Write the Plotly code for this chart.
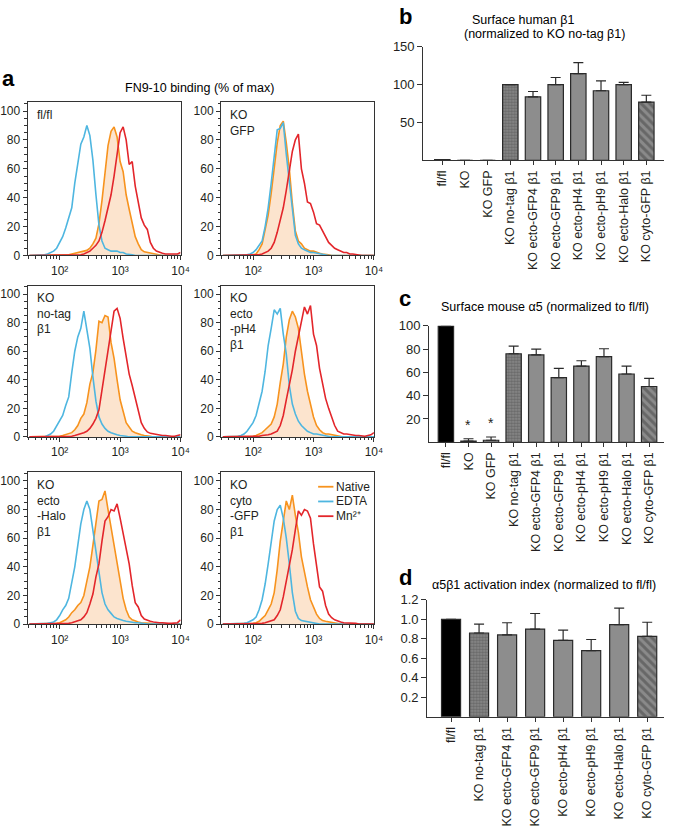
import plotly.graph_objects as go

W, H = 675, 830
FONT = "Liberation Sans, Arial, sans-serif"
INK = "#231f20"

# ---------------- panel a: flow histograms (log10 fluorescence bins) ----------------
LOG_BINS = [1.50, 1.55, 1.60, 1.65, 1.70, 1.75, 1.80, 1.85, 1.90, 1.95,
            2.00, 2.05, 2.10, 2.15, 2.20, 2.25, 2.30, 2.35, 2.40, 2.45,
            2.50, 2.55, 2.60, 2.65, 2.70, 2.75, 2.80, 2.85, 2.90, 2.95,
            3.00, 3.05, 3.10, 3.15, 3.20, 3.25, 3.30, 3.35, 3.40, 3.45,
            3.50, 3.55, 3.60, 3.65, 3.70, 3.75, 3.80, 3.85, 3.90, 3.95, 4.00]

# fl/fl
EDTA_FLFL = [0]*5 + [0.5, 1, 2, 3, 5, 9, 13, 19, 26, 33, 50, 64, 77, 82, 90, 83, 66, 42, 21, 10,
                     5, 4, 3, 3, 3, 2, 2, 1, 1, 0.5] + [0]*16
NATIVE_FLFL = [0]*13 + [0.5, 1, 1.5, 2, 2, 3, 3.5, 5, 8, 12, 22, 38, 58, 76, 86, 89, 82, 65, 58, 42,
                        32, 22, 13, 8, 4, 2.5, 2, 1.5, 1, 1, 0.5] + [0]*7
MN_FLFL = [0]*17 + [0.5, 1, 2, 3, 5, 7, 10, 16, 24, 33, 42, 55, 72, 85, 89, 80, 63, 65, 48, 36,
                    26, 21, 18, 9, 5, 3, 2, 1.5, 1, 1, 1, 0.5, 1, 2]
# KO GFP
EDTA_KOGFP = [0]*8 + [0.5, 1, 2, 4, 7, 10, 20, 33, 50, 68, 87, 88, 92, 70, 52, 31, 14, 8, 5, 4,
                      3, 2, 2, 1.5, 1, 1, 0.5] + [0]*16
NATIVE_KOGFP = [0]*10 + [0.5, 1, 4, 8, 17, 28, 43, 60, 78, 90, 93, 78, 60, 36, 17, 10, 8, 5, 4, 3,
                         3, 2, 1.5, 1, 1, 0.5] + [0]*15
MN_KOGFP = [0]*12 + [0.5, 1, 2, 3, 5, 9, 16, 24, 33, 45, 58, 72, 80, 84, 60, 50, 37, 36, 30, 22,
                     21, 17, 12, 9, 7, 5, 4, 3, 2, 2, 1, 1, 0.5, 0.5] + [0]*5
# KO no-tag b1
EDTA_NOTAG = [0]*6 + [1, 2, 4, 8, 11, 15, 22, 28, 45, 60, 70, 76, 88, 74, 62, 42, 25, 14, 9, 6,
                      4, 3, 2, 1.5, 1, 1, 0.5] + [0]*18
NATIVE_NOTAG = [0]*10 + [0.5, 1, 1.5, 2, 3, 5, 8, 13, 16, 24, 37, 45, 61, 81, 80, 85, 84, 66, 55, 40,
                         26, 18, 10, 7, 4, 3, 2, 1.5, 1, 1, 0.5] + [0]*10
MN_NOTAG = [0]*14 + [0.5, 1, 1.5, 2, 3, 4, 6, 9, 13, 19, 33, 48, 62, 74, 88, 90, 83, 69, 55, 44,
                     36, 28, 20, 10, 6, 3.5, 2.5, 2, 1.5, 1, 1, 1, 0.5, 0.5, 0.5, 1, 1.5]
# KO ecto-pH4 b1
EDTA_PH4 = [0]*5 + [0.5, 1, 2, 4, 7, 10, 15, 23, 32, 46, 64, 76, 89, 86, 90, 72, 58, 36, 23, 16,
                    11, 8, 6, 4, 3, 2, 2, 1.5, 1, 1, 0.5] + [0]*15
NATIVE_PH4 = [0]*10 + [0.5, 1, 2, 3, 5, 7, 9, 14, 23, 38, 51, 70, 82, 88, 84, 76, 58, 44, 32, 22,
                       14, 8, 5, 3, 2, 2, 1.5, 1, 1, 0.5] + [0]*11
MN_PH4 = [0]*12 + [0.5, 1, 1, 1.5, 2, 3, 4, 8, 15, 26, 36, 47, 60, 70, 82, 91, 86, 92, 72, 64,
                   48, 37, 27, 20, 14, 8, 4, 3, 2, 2, 1.5, 1, 1, 1, 0.5, 0.5, 1, 1.5, 3]
# KO ecto-Halo b1
EDTA_HALO = [0]*6 + [0.5, 1, 1.5, 3, 6, 10, 13, 18, 28, 40, 55, 70, 80, 86, 80, 66, 50, 35, 22, 14,
                     10, 7.5, 5, 4, 3, 2.5, 2, 1.5, 1, 1, 1, 0.5] + [0]*13
NATIVE_HALO = [0]*9 + [0.5, 1, 2, 3, 5, 8, 10, 13, 15, 20, 30, 40, 55, 70, 86, 87, 93, 80, 68, 57,
                       44, 30, 18, 10, 5, 3, 2, 1.5, 1, 1, 0.5, 0.5] + [0]*10
MN_HALO = [0]*13 + [0.5, 1, 1.5, 2, 3, 5, 8, 14, 21, 33, 42, 58, 72, 75, 80, 79, 84, 74, 63, 52,
                    42, 27, 15, 12, 6, 3.5, 2.5, 2, 1.5, 1, 1, 1, 0.5, 0.5, 0.5, 1, 1, 3]
# KO cyto-GFP b1
EDTA_CYTO = [0]*7 + [0.5, 1, 2, 3, 5, 10, 17, 28, 42, 58, 72, 80, 83, 74, 60, 42, 22, 9, 4, 2.5,
                     2, 1.5, 1, 1, 0.5] + [0]*19
NATIVE_CYTO = [0]*10 + [0.5, 1, 2, 4, 6, 10, 14, 22, 38, 58, 74, 86, 80, 90, 76, 64, 47, 36, 26, 17,
                        12, 7, 4, 2.5, 2, 1.5, 1, 0.5, 0.5] + [0]*12
MN_CYTO = [0]*13 + [0.5, 1, 1.5, 2, 3, 6, 10, 19, 30, 40, 52, 66, 79, 76, 80, 79, 74, 56, 40, 26,
                    23, 13, 7, 4.5, 3, 2, 1.5, 1, 1, 0.5, 0.5, 0.5] + [0]*6

HIST_LABELS = ["fl/fl", "KO<br>GFP", "KO<br>no-tag<br>β1", "KO<br>ecto<br>-pH4<br>β1",
               "KO<br>ecto<br>-Halo<br>β1", "KO<br>cyto<br>-GFP<br>β1"]
HIST_NATIVE = [NATIVE_FLFL, NATIVE_KOGFP, NATIVE_NOTAG, NATIVE_PH4, NATIVE_HALO, NATIVE_CYTO]
HIST_EDTA = [EDTA_FLFL, EDTA_KOGFP, EDTA_NOTAG, EDTA_PH4, EDTA_HALO, EDTA_CYTO]
HIST_MN = [MN_FLFL, MN_KOGFP, MN_NOTAG, MN_PH4, MN_HALO, MN_CYTO]
HIST_X_TICKS = [100, 1000, 10000]
HIST_X_TEXT = ["10²", "10³", "10⁴"]
LEGEND_NAMES = ["Native", "EDTA", "Mn²⁺"]

# ---------------- panels b, c, d ----------------
CATS_BC = ["fl/fl", "KO", "KO GFP", "KO no-tag β1", "KO ecto-GFP4 β1", "KO ecto-GFP9 β1",
           "KO ecto-pH4 β1", "KO ecto-pH9 β1", "KO ecto-Halo β1", "KO cyto-GFP β1"]
B_VALS = [1, 0, 0, 100, 84, 100, 114.5, 92, 100, 77]
B_ERR = [0, 0, 0, 0, 7, 9.5, 14.5, 13, 3, 9]
C_VALS = [100, 1, 1.7, 76, 75, 55.5, 65.4, 73.5, 58.6, 47.9]
C_ERR = [0, 2, 2.8, 6.5, 5, 8, 4.6, 6.8, 6.8, 7]
C_STARRED = ["KO", "KO GFP"]
CATS_D = ["fl/fl", "KO no-tag β1", "KO ecto-GFP4 β1", "KO ecto-GFP9 β1", "KO ecto-pH4 β1",
          "KO ecto-pH9 β1", "KO ecto-Halo β1", "KO cyto-GFP β1"]
D_VALS = [1.0, 0.86, 0.84, 0.90, 0.785, 0.68, 0.945, 0.825]
D_ERR = [0, 0.09, 0.125, 0.16, 0.105, 0.113, 0.17, 0.145]

C_ORANGE = "#f7931e"
C_BLUE = "#4eb6e0"
C_RED = "#e3262b"
C_FILL = "rgba(249,205,165,0.55)"
GRAY = "#8d8d8d"


def xd(a, b):
    return [a / W, b / W]


def yd(top, bottom):
    return [1 - bottom / H, 1 - top / H]


def ax(n):
    return "" if n == 1 else str(n)


fig = go.Figure()
layout = dict(width=W, height=H, margin=dict(l=0, r=0, t=0, b=0),
              paper_bgcolor="white", plot_bgcolor="white", showlegend=False,
              font=dict(family=FONT, size=12, color=INK))

COLS = [(28, 183), (224, 379)]
ROWS = [(97, 252.7), (283.3, 437.3), (473.3, 627.7)]
xs = [10 ** v for v in LOG_BINS]
annotations = []
shapes = []

for i in range(6):
    r, c = divmod(i, 2)
    n = i + 1
    key = ax(n)
    xa, ya = "x" + key, "y" + key
    fig.add_trace(go.Scatter(x=xs, y=HIST_NATIVE[i], xaxis=xa, yaxis=ya, mode="lines",
                             line=dict(color=C_ORANGE, width=1.6), fill="tozeroy",
                             fillcolor=C_FILL, hoverinfo="skip"))
    fig.add_trace(go.Scatter(x=xs, y=HIST_EDTA[i], xaxis=xa, yaxis=ya, mode="lines",
                             line=dict(color=C_BLUE, width=1.6), hoverinfo="skip"))
    fig.add_trace(go.Scatter(x=xs, y=HIST_MN[i], xaxis=xa, yaxis=ya, mode="lines",
                             line=dict(color=C_RED, width=1.6), hoverinfo="skip"))
    layout["xaxis" + key] = dict(
        domain=xd(*COLS[c]), anchor=ya, type="log", range=[1.47, 4.0],
        tickvals=HIST_X_TICKS, ticktext=HIST_X_TEXT, ticks="outside", ticklen=4,
        tickcolor="#333", showline=True, linecolor="#333", linewidth=1, mirror=True,
        showgrid=False, zeroline=False, tickfont=dict(size=12),
        minor=dict(ticks="outside", ticklen=2.5, tickcolor="#333", dtick="D1", showgrid=False))
    layout["yaxis" + key] = dict(
        domain=yd(*ROWS[r]), anchor=xa, range=[0, 106], tickvals=[0, 20, 40, 60, 80, 100],
        ticks="outside", ticklen=4, tickcolor="#333", showline=True, linecolor="#333",
        linewidth=1, mirror=True, showgrid=False, zeroline=False, tickfont=dict(size=12),
        minor=dict(ticks="outside", ticklen=2.5, dtick=5, tickcolor="#333", showgrid=False))
    annotations.append(dict(text=HIST_LABELS[i], xref=xa + " domain", yref=ya + " domain",
                            x=0.045, y=0.975, xanchor="left", yanchor="top", align="left",
                            showarrow=False, font=dict(size=12, color=INK)))

# legend in last histogram panel
for j, (name, col) in enumerate(zip(LEGEND_NAMES, [C_ORANGE, C_BLUE, C_RED])):
    yy = 0.905 - j * 0.097
    shapes.append(dict(type="line", xref="x6 domain", yref="y6 domain", x0=0.635, x1=0.735,
                       y0=yy, y1=yy, line=dict(color=col, width=1.8)))
    annotations.append(dict(text=name, xref="x6 domain", yref="y6 domain", x=0.74, y=yy,
                            xanchor="left", yanchor="middle", showarrow=False,
                            font=dict(size=12, color=INK)))


def bar_style(cats):
    colors, shp, size, sol = [], [], [], []
    for cat in cats:
        if cat == "fl/fl":
            colors.append("black"); shp.append(""); size.append(5); sol.append(0.3)
        elif "no-tag" in cat:
            colors.append("#8c8c8c"); shp.append("."); size.append(3); sol.append(0.55)
        elif "cyto" in cat:
            colors.append("#8a8a8a"); shp.append("\\"); size.append(6); sol.append(0.5)
        else:
            colors.append(GRAY); shp.append(""); size.append(5); sol.append(0.3)
    return colors, shp, size, sol


def add_bars(cats, vals, errs, n):
    colors, shp, size, sol = bar_style(cats)
    fig.add_trace(go.Bar(
        x=cats, y=vals, xaxis=f"x{n}", yaxis=f"y{n}", width=0.68,
        marker=dict(color=colors, line=dict(color="#2a2a2a", width=1.2),
                    pattern=dict(shape=shp, fgcolor="#151515", size=size, solidity=sol,
                                 fillmode="overlay")),
        error_y=dict(type="data", symmetric=False, array=errs, arrayminus=[0] * len(errs),
                     color="#2a2a2a", thickness=1.2, width=5, visible=True),
        hoverinfo="skip"))


def bar_axes(n, xdom, ydom, xrange_, yrange, yticks, yfmt=None):
    layout[f"xaxis{n}"] = dict(domain=xdom, anchor=f"y{n}", type="category", range=xrange_,
                               tickangle=-90, ticks="outside", ticklen=4, tickcolor="#333",
                               showline=True, linecolor="#333", linewidth=1.2, showgrid=False,
                               zeroline=False, tickfont=dict(size=12.5, color=INK))
    ya = dict(domain=ydom, anchor=f"x{n}", range=yrange, tickvals=yticks, ticks="outside",
              ticklen=5, tickcolor="#333", showline=True, linecolor="#333", linewidth=1.2,
              showgrid=False, zeroline=False, tickfont=dict(size=13, color=INK))
    if yfmt:
        ya["tickformat"] = yfmt
    layout[f"yaxis{n}"] = ya


add_bars(CATS_BC, B_VALS, B_ERR, 7)
bar_axes(7, xd(429, 673), yd(40.5, 156), [-0.84, 9.78], [0, 150], [50, 100, 150])
add_bars(CATS_BC, C_VALS, C_ERR, 8)
bar_axes(8, xd(435, 673), yd(324.3, 442.7), [-0.74, 9.66], [0, 100], [20, 40, 60, 80, 100])
add_bars(CATS_D, D_VALS, D_ERR, 9)
bar_axes(9, xd(433, 673), yd(603, 722), [-0.85, 7.6], [0, 1.2], [0.2, 0.4, 0.6, 0.8, 1.0, 1.2], ".1f")

for cat in C_STARRED:
    k = CATS_BC.index(cat)
    annotations.append(dict(text="*", x=cat, y=C_VALS[k] + C_ERR[k] + 3, xref="x8", yref="y8",
                            yanchor="bottom", showarrow=False, font=dict(size=14, color=INK)))


def ptext(text, x, y, size=12.5, bold=False, anchor="center"):
    annotations.append(dict(text=f"<b>{text}</b>" if bold else text, x=x / W, y=1 - y / H,
                            xref="paper", yref="paper", xanchor=anchor, yanchor="middle",
                            showarrow=False, font=dict(size=size, color="black")))


ptext("a", 0, 73, 22, True, "left")
ptext("FN9-10 binding (% of max)", 202, 82, 12.5)
ptext("b", 402, 10, 22, True, "left")
ptext("Surface human β1", 530, 13, 12.5)
ptext("(normalized to KO no-tag β1)", 552, 27, 12.5)
ptext("c", 402, 296, 22, True, "left")
ptext("Surface mouse α5 (normalized to fl/fl)", 552, 305, 12.5)
ptext("d", 402, 580, 22, True, "left")
ptext("α5β1 activation index (normalized to fl/fl)", 551, 588, 12.5)

layout["annotations"] = annotations
layout["shapes"] = shapes
layout["bargap"] = 0.3
fig.update_layout(**layout)
fig.write_html("out.html", config={"displayModeBar": False},
               post_script="document.body.style.margin='0';document.body.style.overflow='hidden';")
